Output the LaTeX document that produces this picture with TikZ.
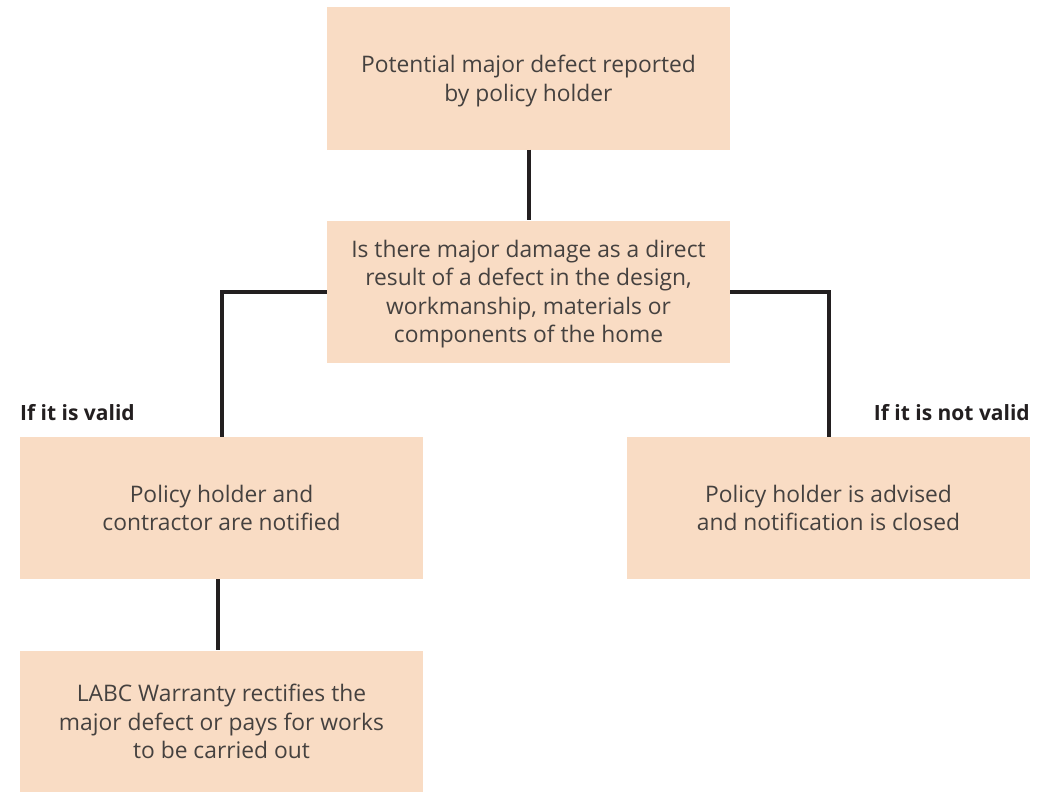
\documentclass[tikz,border=0pt]{standalone}
\usepackage{fontspec}
\setmainfont{Open Sans}
\usetikzlibrary{positioning}
\definecolor{peach}{HTML}{F9DCC4}
\definecolor{ink}{HTML}{231F20}
\definecolor{txt}{HTML}{45413F}

\begin{document}
\begin{tikzpicture}[
  x=1pt, y=-1pt,
  box/.style={fill=peach, align=center, text=txt, minimum width=403pt, minimum height=142pt,
    inner sep=0pt, text depth=0pt, font=\fontsize{22.8}{28.5}\selectfont},
  link/.style={draw=ink, line width=4pt},
  tag/.style={font=\fontsize{21}{25}\selectfont\bfseries, text=ink, inner sep=0pt}
]
\useasboundingbox (0,0) rectangle (1052,792);

\node[box] (report) at (528.5,78.5) {Potential major defect reported\\by policy holder};
\node[box] (check) at (528.5,291.5) {Is there major damage as a direct\\result of a defect in the design,\\workmanship, materials or\\components of the home};
\node[box] (valid) at (221.5,508) {Policy holder and\\contractor are notified};
\node[box] (invalid) at (828.5,508) {Policy holder is advised\\and notification is closed};
\node[box] (fix) at (221.5,721.5) {LABC Warranty rectifies the\\major defect or pays for works\\to be carried out};

\node[tag, anchor=base west] (yes) at (20,420) {If it is valid};
\node[tag, anchor=base east] (no) at (1030,420) {If it is not valid};

\draw[link] (report) -- (check);
\draw[link] (check.west) -| (valid.north);
\draw[link] (check.east) -| (invalid.north);
\draw[link] ([xshift=-4pt]valid.south) -- ([xshift=-4pt]fix.north);
\end{tikzpicture}
\end{document}
